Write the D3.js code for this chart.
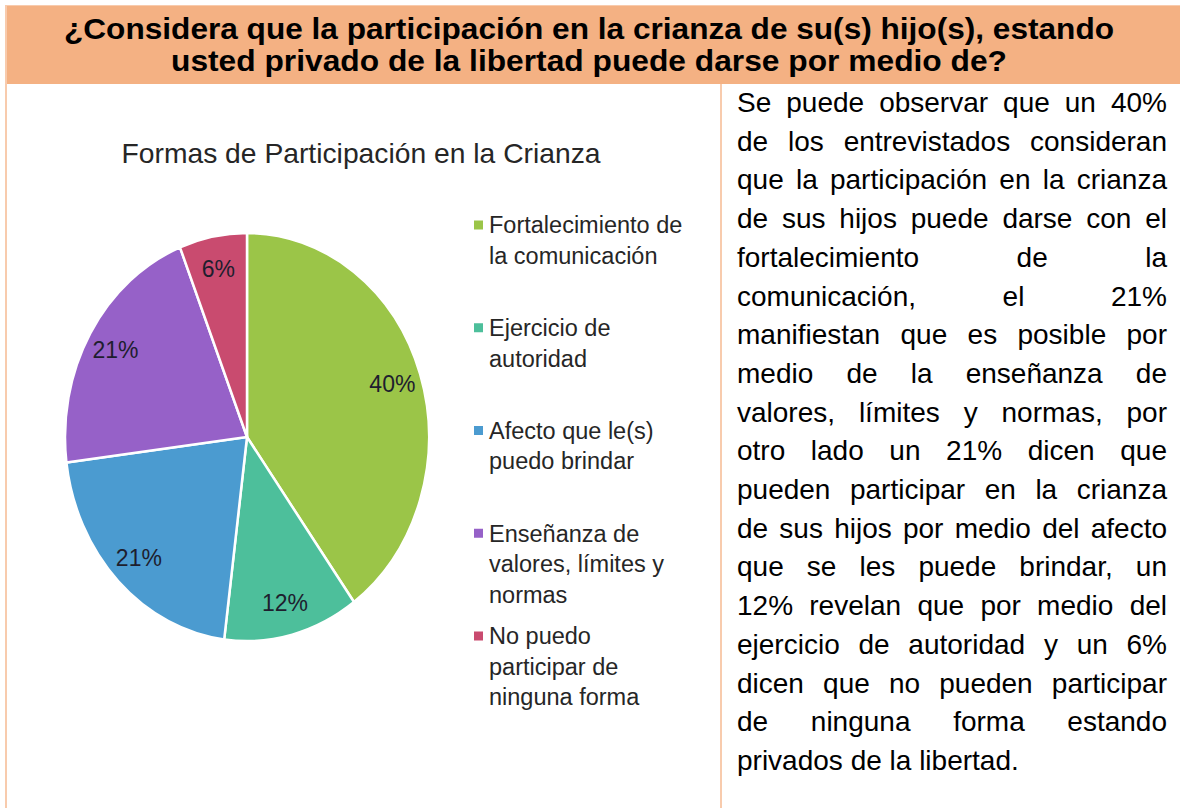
<!DOCTYPE html>
<html>
<head>
<meta charset="utf-8">
<script src="https://cdn.jsdelivr.net/npm/d3@7/dist/d3.min.js"></script>
<style>
  html, body { margin: 0; padding: 0; background: #ffffff; }
  svg { display: block; font-family: "Liberation Sans", Arial, sans-serif; }
</style>
</head>
<body>
<svg id="chart" width="1180" height="808"></svg>
<script>
// ---------- data ----------
const headerLines = [
  "¿Considera que la participación en la crianza de su(s) hijo(s), estando",
  "usted privado de la libertad puede darse por medio de?"
];
const chartTitle = "Formas de Participación en la Crianza";
const categories = [
  "Fortalecimiento de la comunicación",
  "Ejercicio de autoridad",
  "Afecto que le(s) puedo brindar",
  "Enseñanza de valores, límites y normas",
  "No puedo participar de ninguna forma"
];
const legendLines = [
  ["Fortalecimiento de", "la comunicación"],
  ["Ejercicio de", "autoridad"],
  ["Afecto que le(s)", "puedo brindar"],
  ["Enseñanza de", "valores, límites y", "normas"],
  ["No puedo", "participar de", "ninguna forma"]
];
const values = [40, 12, 21, 21, 6];
const colors = ["#9BC548", "#4DBF9B", "#4B9BD0", "#9661C8", "#C94B6F"];
const paragraphLines = [
  "Se puede observar que un 40%",
  "de los entrevistados consideran",
  "que la participación en la crianza",
  "de sus hijos puede darse con el",
  "fortalecimiento de la",
  "comunicación, el 21%",
  "manifiestan que es posible por",
  "medio de la enseñanza de",
  "valores, límites y normas, por",
  "otro lado un 21% dicen que",
  "pueden participar en la crianza",
  "de sus hijos por medio del afecto",
  "que se les puede brindar, un",
  "12% revelan que por medio del",
  "ejercicio de autoridad y un 6%",
  "dicen que no pueden participar",
  "de ninguna forma estando",
  "privados de la libertad."
];

// ---------- layout ----------
const svg = d3.select("#chart");
const W = 1180, H = 808;

// header band
svg.append("rect").attr("x", 5).attr("y", 5).attr("width", W - 5).attr("height", 79)
  .attr("fill", "#F4B183");
svg.append("line").attr("x1", 5).attr("x2", W).attr("y1", 5.5).attr("y2", 5.5)
  .attr("stroke", "#F8CBAD").attr("stroke-width", 1);
// left border and divider
svg.append("rect").attr("x", 5).attr("y", 5).attr("width", 2).attr("height", H - 5)
  .attr("fill", "#F8CBAD");
svg.append("rect").attr("x", 720).attr("y", 84).attr("width", 2).attr("height", H - 84)
  .attr("fill", "#F8CBAD");

const headerWidths = [1050, 836];
headerLines.forEach((t, i) => {
  svg.append("text")
    .attr("x", 589).attr("y", 39 + i * 32)
    .attr("text-anchor", "middle")
    .attr("font-size", 30).attr("font-weight", "bold").attr("fill", "#000")
    .attr("textLength", headerWidths[i]).attr("lengthAdjust", "spacingAndGlyphs")
    .text(t);
});

// chart title
svg.append("text")
  .attr("x", 361).attr("y", 163)
  .attr("text-anchor", "middle")
  .attr("font-size", 28).attr("fill", "#262626")
  .attr("textLength", 479).attr("lengthAdjust", "spacingAndGlyphs")
  .text(chartTitle);

// pie (slightly elliptical like the reference)
const cx = 247, cy = 437, rx = 182, ry = 204;
const pie = d3.pie().sort(null).value(d => d)
  .startAngle(0).endAngle(2 * Math.PI);
const arcs = pie(values);
const arc = d3.arc().innerRadius(0).outerRadius(ry);

const pieG = svg.append("g")
  .attr("transform", `translate(${cx},${cy}) scale(${rx / ry},1)`);
pieG.selectAll("path").data(arcs).enter().append("path")
  .attr("d", arc)
  .attr("fill", (d, i) => colors[i])
  .attr("stroke", "#ffffff")
  .attr("stroke-width", 2.5)
  .attr("vector-effect", "non-scaling-stroke");

const labelArc = d3.arc().innerRadius(ry * 0.84).outerRadius(ry * 0.84);
svg.append("g").selectAll("text").data(arcs).enter().append("text")
  .attr("x", d => cx + labelArc.centroid(d)[0] * rx / ry)
  .attr("y", d => cy + labelArc.centroid(d)[1])
  .attr("dy", "0.36em")
  .attr("text-anchor", "middle")
  .attr("font-size", 23).attr("fill", "#1E1E2E")
  .text(d => d.data + "%");

// legend
const legendY = d3.scalePoint().domain(categories).range([225, 636]);
const lg = svg.append("g");
categories.forEach((c, i) => {
  const y0 = legendY(c);
  lg.append("rect").attr("x", 474).attr("y", y0 - 4.5).attr("width", 9).attr("height", 9)
    .attr("fill", colors[i]);
  legendLines[i].forEach((line, j) => {
    lg.append("text").attr("x", 489).attr("y", y0 + j * 30.5)
      .attr("dy", "0.36em")
      .attr("font-size", 23.5).attr("fill", "#262626")
      .text(line);
  });
});

// justified paragraph
const pLeft = 737, pRight = 1167, pTop = 112, pStep = 38.7;
paragraphLines.forEach((line, i) => {
  const words = line.split(" ");
  const y = pTop + i * pStep;
  const last = i === paragraphLines.length - 1;
  const g = svg.append("g");
  const nodes = words.map(w => g.append("text").attr("y", y)
    .attr("font-size", 28).attr("fill", "#000").text(w));
  const widths = nodes.map(n => n.node().getComputedTextLength());
  const total = d3.sum(widths);
  const space = 28 * 0.278;
  const gap = (last || words.length < 2) ? space : (pRight - pLeft - total) / (words.length - 1);
  let x = pLeft;
  nodes.forEach((n, k) => { n.attr("x", x); x += widths[k] + gap; });
});
</script>
</body>
</html>
